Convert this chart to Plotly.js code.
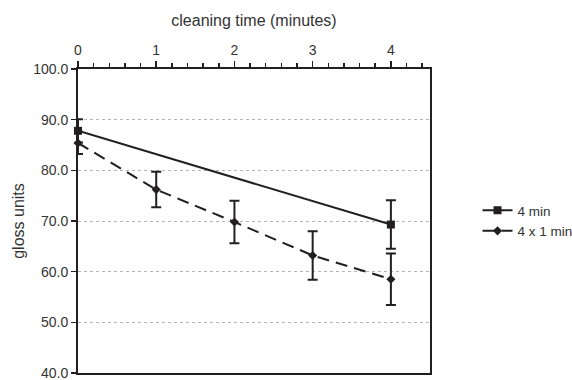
<!DOCTYPE html>
<html><head><meta charset="utf-8">
<script src="https://cdn.plot.ly/plotly-3.0.1.min.js"></script>
<style>html,body{margin:0;padding:0;background:#fff;}#chart{width:572px;height:380px;}</style>
</head><body><div id="chart"></div>
<script>
const timesA = [0, 4];
const glossA = [87.8, 69.3];
const errA = [2.3, 4.8];
const timesB = [0, 1, 2, 3, 4];
const glossB = [85.4, 76.2, 69.8, 63.2, 58.5];
const errB = [2.2, 3.5, 4.2, 4.8, 5.1];
const names = ['4 min', '4 x 1 min'];
const dark = '#231f20';

const traces = [
  {x: timesA, y: glossA, name: names[0], mode: 'lines+markers', cliponaxis: false,
   line: {color: dark, width: 2}, marker: {symbol: 'square', size: 8, color: dark},
   error_y: {type: 'data', array: errA, visible: true, color: dark, thickness: 2, width: 5}},
  {x: timesB, y: glossB, name: names[1], mode: 'lines+markers', cliponaxis: false,
   line: {color: dark, width: 2, dash: '12px,7px'}, marker: {symbol: 'diamond', size: 7, color: dark},
   error_y: {type: 'data', array: errB, visible: true, color: dark, thickness: 2, width: 5}}
];

const layout = {
  width: 572, height: 380,
  margin: {l: 78, r: 142, t: 69, b: 7, autoexpand: false},
  paper_bgcolor: '#fff', plot_bgcolor: '#fff',
  font: {family: 'Liberation Sans, Arial, sans-serif', color: '#333', size: 14},
  showlegend: true,
  legend: {x: 1.135, xanchor: 'left', y: 0.50, yanchor: 'middle', font: {size: 13.5}, tracegroupgap: 0, itemwidth: 30, traceorder: 'normal', bgcolor: 'rgba(0,0,0,0)'},
  xaxis: {
    side: 'top', range: [0, 4.5], dtick: 1, tick0: 0,
    showline: true, mirror: true, linecolor: dark, linewidth: 2,
    ticks: 'outside', ticklen: 6, tickwidth: 1.5, tickcolor: dark,
    minor: {dtick: 0.2, ticks: 'outside', ticklen: 4, tickwidth: 1.5, tickcolor: dark, showgrid: false},
    showgrid: false, zeroline: false,
    tickfont: {size: 14},
    title: {text: 'cleaning time (minutes)', font: {size: 16}, standoff: 12}
  },
  yaxis: {
    range: [40, 100], dtick: 10, tickformat: '.1f',
    showline: true, mirror: true, linecolor: dark, linewidth: 2,
    ticks: 'outside', ticklen: 5, tickwidth: 1.5, tickcolor: dark,
    showgrid: true, gridcolor: '#b5b5b5', gridwidth: 1, griddash: 'dot',
    zeroline: false, tickfont: {size: 14}, ticklabeloverflow: 'allow',
    title: {text: 'gloss units', font: {size: 16}, standoff: 5}
  }
};
Plotly.newPlot('chart', traces, layout, {displayModeBar: false, staticPlot: true});
</script></body></html>
